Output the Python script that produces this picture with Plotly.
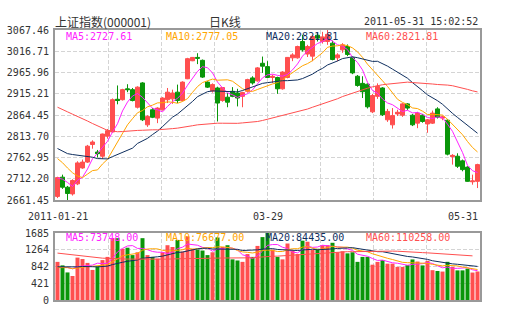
import plotly.graph_objects as go
import numpy as np

dates = ["2011-01-21","2011-01-24","2011-01-25","2011-01-26","2011-01-27","2011-01-28","2011-01-31",
         "2011-02-01","2011-02-09","2011-02-10","2011-02-11","2011-02-14","2011-02-15","2011-02-16","2011-02-17","2011-02-18",
         "2011-02-21","2011-02-22","2011-02-23","2011-02-24","2011-02-25","2011-02-28",
         "2011-03-01","2011-03-02","2011-03-03","2011-03-04","2011-03-07","2011-03-08","2011-03-09","2011-03-10","2011-03-11",
         "2011-03-14","2011-03-15","2011-03-16","2011-03-17","2011-03-18","2011-03-21","2011-03-22","2011-03-23","2011-03-24",
         "2011-03-25","2011-03-28","2011-03-29","2011-03-30","2011-03-31",
         "2011-04-01","2011-04-06","2011-04-07","2011-04-08","2011-04-11","2011-04-12","2011-04-13","2011-04-14","2011-04-15",
         "2011-04-18","2011-04-19","2011-04-20","2011-04-21","2011-04-22","2011-04-25","2011-04-26","2011-04-27","2011-04-28","2011-04-29",
         "2011-05-03","2011-05-04","2011-05-05","2011-05-06","2011-05-09","2011-05-10","2011-05-11","2011-05-12","2011-05-13",
         "2011-05-16","2011-05-17","2011-05-18","2011-05-19","2011-05-20","2011-05-23","2011-05-24","2011-05-25","2011-05-26",
         "2011-05-27","2011-05-30","2011-05-31"]

open_ = [2670,2716,2692,2676,2700,2738,2752,2794,2776,2766,2814,2824,2902,2901,2927,2925,2883,2941,2841,2877,
         2857,2877,2901,2903,2919,2899,2951,2994,3002,2995,2943,2922,2929,2899,2907,2921,2917,2909,2921,2953,
         2946,2988,2980,2954,2954,2927,2954,3001,3001,3040,3010,3005,3055,3040,3040,3036,3001,3020,3028,3001,
         2957,2940,2938,2872,2909,2929,2853,2841,2867,2864,2891,2864,2845,2864,2843,2845,2879,2857,2852,2765,
         2766,2755,2740,2705,2706]
high = [2717,2722,2695,2711,2754,2758,2793,2804,2781,2820,2831,2904,2935,2927,2938,2929,2933,2943,2864,2881,
        2883,2907,2929,2925,2937,2945,3001,3003,3012,2997,2945,2940,2932,2931,2917,2931,2927,2920,2951,2957,
        2979,3004,2993,2961,2956,2969,3003,3012,3030,3056,3032,3055,3060,3063,3067.46,3042,3012,3036,3033,3004,
        2960,2957,2940,2915,2940,2931,2879,2881,2877,2893,2893,2867,2872,2867,2855,2875,2883,2863,2855,2771,
        2773,2758,2742,2722,2748]
low = [2666,2688,2661.45,2672,2697,2736,2750,2784,2763,2760,2808,2822,2890,2899,2919,2897,2880,2850,2836,2857,
       2845,2875,2893,2891,2893,2897,2950,2993,2986,2953,2929,2918,2849,2896,2883,2907,2885,2883,2918,2937,
       2944,2965,2953,2941,2915,2925,2952,2993,2999,3016,3003,2993,3040,3035,3032,2995,2993,3013,3005,2962,
       2932,2905,2880,2869,2903,2862,2848,2832,2862,2860,2876,2838,2833,2846,2822,2843,2856,2852,2768,2746,
       2738,2730,2705,2698,2690]
close = [2715,2692,2677,2708,2750,2752,2790,2800,2772,2819,2827,2901,2899,2925,2925,2899,2931,2853,2861,2859,
         2881,2905,2919,2917,2899,2943,2999,3002,3000,2955,2931,2937,2893,2930,2895,2909,2905,2918,2949,2941,
         2977,2981,2954,2957,2927,2967,3002,3008,3028,3020,3028,3052,3048,3051,3057,2997,3008,3032,3009,2965,
         2935,2920,2884,2911,2933,2865,2873,2863,2871,2891,2881,2841,2869,2849,2853,2869,2859,2860,2771,2768,
         2742,2734,2706,2707,2746]
volume = [959,871,693,604,1066,1030,933,756,845,1004,1084,1555,1555,1288,1315,1129,1200,1555,1129,1084,
          1040,1200,1378,1333,1511,1218,1600,1288,1271,1244,1129,1200,1573,1333,1378,1022,994,959,1155,1084,
          1360,1582,1685,1262,1084,1022,1421,1244,1155,1492,1466,1262,1288,1378,1378,1439,1200,1226,1173,1200,
          959,1084,1084,888,959,1002,914,914,833,833,878,1020,967,870,985,750,730,715,960,830,
          745,745,790,690,717]

# closes and volumes of the 59 sessions before the window (needed for the moving averages)
prior_close = [2979,
               3054,3043,3048,3096,3129,3159,3135,3115,3147,2985,3014,2894,2838,2875,2884,2828,2800,2855,2884,2871,2877,2820,
               2829,2854,2857,2886,2875,2878,2837,2842,2925,2934,2924,2905,2896,2855,2903,2894,2871,2833,2781,2751,2777,2782,2808,
               2853,2838,2824,2838,2791,2804,2821,2827,2791,2706,2716,2756,2677]
prior_volume = [1600,
                1750,1650,1800,1900,1850,1700,1650,1750,1800,1550,1900,1600,1400,1300,1350,1200,1300,1250,1200,1150,1250,
                1150,1200,1100,1250,1200,1150,1050,1100,1350,1300,1200,1100,1050,1000,1100,1050,950,850,800,820,800,830,860,
                950,930,880,820,790,800,870,830,760,880,700,770,800]

price_ticks = [2661.45, 2712.20, 2762.95, 2813.70, 2864.45, 2915.21, 2965.96, 3016.71, 3067.46]
vol_ticks = [0, 421, 842, 1264, 1685]
ma_periods = [5, 10, 20, 60]
price_ma_text = ["MA5:2727.61", "MA10:2777.05", "MA20:2821.81", "MA60:2821.81"]
vol_ma_text = ["MA5:73748.00", "MA10:76677.00", "MA20:84435.00", "MA60:110258.00"]
title_left = "上证指数(000001)"
title_mid = "日K线"
title_right = "2011-05-31 15:02:52"

RED = "#ff4f4f"
GREEN = "#0a960a"
MA_COLORS = ["#ff22ff", "#ffa500", "#0f2f5f", "#ff4f4f"]
MONO = "DejaVu Sans Mono"

n = len(close)
idx = list(range(n))


def moving_average(prior, values, p):
    s = np.array(prior + values, dtype=float)
    out = np.convolve(s, np.ones(p) / p, mode="valid")
    return out[-len(values):]


fig = go.Figure()
fig.add_trace(go.Candlestick(
    x=idx, open=open_, high=high, low=low, close=close,
    increasing=dict(line=dict(color=RED, width=1), fillcolor=RED),
    decreasing=dict(line=dict(color=GREEN, width=1), fillcolor=GREEN),
    whiskerwidth=0, hoverinfo="skip", xaxis="x", yaxis="y", showlegend=False))

for p, col in zip(ma_periods, MA_COLORS):
    fig.add_trace(go.Scatter(x=idx, y=moving_average(prior_close, close, p), mode="lines",
                             line=dict(color=col, width=1), hoverinfo="skip",
                             xaxis="x", yaxis="y", showlegend=False))

vol_colors = [RED if c >= o else GREEN for o, c in zip(open_, close)]
fig.add_trace(go.Bar(x=idx, y=volume, marker=dict(color=vol_colors, line=dict(width=0)),
                     hoverinfo="skip", xaxis="x2", yaxis="y2", showlegend=False))
for p, col in zip(ma_periods, MA_COLORS):
    fig.add_trace(go.Scatter(x=idx, y=moving_average(prior_volume, volume, p), mode="lines",
                             line=dict(color=col, width=1), hoverinfo="skip",
                             xaxis="x2", yaxis="y2", showlegend=False))

grid_x = [-0.5 + k * n / 8 for k in range(1, 8)]
axis_common = dict(showline=True, mirror=True, linecolor="#999999", linewidth=2, automargin=False,
                   gridcolor="#d4d4d4", griddash="4px,2px", gridwidth=1, zeroline=False)

fig.update_layout(
    width=505, height=330,
    margin=dict(l=55, r=25, t=30, b=30, pad=0),
    paper_bgcolor="white", plot_bgcolor="white",
    boxgap=0.2, boxgroupgap=0, bargap=0.2,
    showlegend=False,
    xaxis=dict(domain=[0, 1], range=[-0.5, n - 0.5], tickvals=grid_x, showticklabels=False,
               showgrid=True, ticks="", anchor="y", rangeslider=dict(visible=False), **axis_common),
    yaxis=dict(domain=[100 / 270, 1], range=[price_ticks[0], price_ticks[-1]], tickvals=price_ticks,
               ticktext=[f"{v:.2f}" for v in price_ticks], showgrid=True, ticks="outside", ticklen=2,
               tickcolor="white", tickfont=dict(family=MONO, size=10, color="#333333"), anchor="x",
               **axis_common),
    xaxis2=dict(domain=[0, 1], range=[-0.5, n - 0.5], tickvals=grid_x, showticklabels=False,
                showgrid=True, ticks="", anchor="y2", **axis_common),
    yaxis2=dict(domain=[0, 67 / 270], range=[vol_ticks[0], vol_ticks[-1]], tickvals=vol_ticks,
                ticktext=[str(v) for v in vol_ticks], showgrid=True, ticks="outside", ticklen=2,
                tickcolor="white", tickfont=dict(family=MONO, size=10, color="#333333"), anchor="x2",
                **axis_common),
)

ann = []
def px_x(px):
    return (px - 55) / 425
def px_y(py):
    return (300 - py) / 270

ann.append(dict(text=title_left, x=px_x(53), y=px_y(22), xanchor="left", yanchor="middle",
                font=dict(family="Noto Sans CJK SC", size=12, color="#333333")))
ann.append(dict(text=title_mid, x=px_x(225), y=px_y(22), xanchor="center", yanchor="middle",
                font=dict(family="Noto Sans CJK SC", size=12, color="#333333")))
ann.append(dict(text=title_right, x=1, y=px_y(22), xanchor="right", yanchor="middle",
                font=dict(family=MONO, size=10, color="#333333")))
for k, (t, col) in enumerate(zip(price_ma_text, MA_COLORS)):
    ann.append(dict(text=t, x=px_x(64 + 100 * k), y=px_y(36.5), xanchor="left", yanchor="middle",
                    font=dict(family=MONO, size=10, color=col)))
for k, (t, col) in enumerate(zip(vol_ma_text, MA_COLORS)):
    ann.append(dict(text=t, x=px_x(64 + 100 * k), y=px_y(237.5), xanchor="left", yanchor="middle",
                    font=dict(family=MONO, size=10, color=col)))
for a in ann:
    a.update(xref="paper", yref="paper", showarrow=False)

date_labels = [(0, dates[0], "center"), (42, dates[42][5:], "center"), (n - 0.5, dates[-1][5:], "right")]
for xv, t, anc in date_labels:
    ann.append(dict(text=t, x=xv, xref="x", y=px_y(216.5), yref="paper", xanchor=anc, yanchor="middle",
                    showarrow=False, font=dict(family=MONO, size=10, color="#333333")))

fig.update_layout(annotations=ann)
fig.write_html("out.html")
